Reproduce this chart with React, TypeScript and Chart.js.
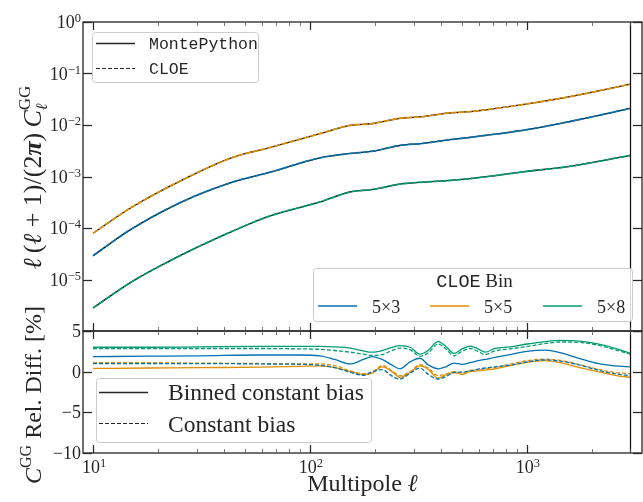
import React, { useEffect, useRef } from 'react';
import { Chart, registerables } from 'chart.js';
Chart.register(...registerables);

const SERIF = '"Liberation Serif", "DejaVu Serif", serif';
const MONO = '"Liberation Mono", "DejaVu Sans Mono", monospace';
const INK = '#262626';

// ---------- data ----------
const ELL_TOP = [10, 15, 26, 44, 65, 111, 153, 195, 259, 332, 428, 547, 1000, 1580, 3000];
const CL_5x3 = [2.9e-5, 9.5e-5, 3.3e-4, 7.8e-4, 1.2e-3, 2.3e-3, 2.8e-3, 3.1e-3, 4.0e-3, 4.4e-3, 5.1e-3, 5.75e-3, 8.1e-3, 1.17e-2, 2.1e-2];
const CL_5x5 = [7.9e-5, 2.5e-4, 8.7e-4, 2.34e-3, 3.63e-3, 6.8e-3, 9.8e-3, 1.07e-2, 1.35e-2, 1.45e-2, 1.7e-2, 1.82e-2, 2.57e-2, 3.55e-2, 6.2e-2];
const CL_5x8 = [2.8e-6, 8.9e-6, 3.1e-5, 8.7e-5, 1.7e-4, 3.2e-4, 5.0e-4, 5.6e-4, 7.1e-4, 7.8e-4, 8.3e-4, 9.1e-4, 1.26e-3, 1.58e-3, 2.57e-3];

const ELL_DIFF = [10, 18, 31, 59, 90, 111, 130, 153, 176, 193, 215, 239, 260, 289, 321, 350, 389, 423, 461, 502, 546, 595, 641, 712, 835, 1000, 1210, 1419, 1754, 2170, 2544, 3000];
const DIFF_5x3_BINNED = [1.85, 1.9, 1.95, 2.05, 2.05, 1.95, 1.5, 0.95, 1.5, 1.85, 1.5, 0.8, 0.35, 1.2, 1.65, 0.85, 0.35, 0.6, 1.05, 0.9, 1.1, 1.35, 1.5, 1.75, 2.1, 2.5, 2.65, 2.35, 1.6, 0.95, 0.7, 0.6];
const DIFF_5x3_CONST = [1.0, 1.0, 1.0, 0.95, 0.9, 0.8, 0.5, -0.05, -0.45, 0.0, 0.25, -0.55, -0.9, -0.2, 0.45, -0.3, -0.9, -0.6, -0.1, -0.05, 0.1, 0.3, 0.45, 0.6, 0.8, 1.2, 1.45, 1.3, 0.8, 0.12, -0.25, -0.5];
const DIFF_5x5_BINNED = [0.4, 0.45, 0.5, 0.55, 0.65, 0.7, 0.5, 0.0, -0.35, -0.2, 0.6, 0.0, -0.7, -0.1, 0.7, 0.3, -0.8, -0.4, -0.1, -0.35, 0.0, 0.1, 0.2, 0.35, 0.75, 1.15, 1.35, 1.1, 0.5, -0.05, -0.45, -0.7];
const DIFF_5x5_CONST = [1.1, 1.1, 1.05, 1.0, 0.95, 0.95, 0.75, 0.1, -0.25, -0.1, 0.75, 0.1, -0.5, 0.0, 0.85, 0.45, -0.5, -0.3, 0.0, -0.2, 0.15, 0.25, 0.35, 0.5, 0.9, 1.35, 1.55, 1.4, 0.85, 0.25, -0.1, -0.25];
const DIFF_5x8_BINNED = [3.0, 3.0, 3.05, 3.1, 3.1, 3.1, 3.05, 2.9, 2.55, 2.4, 2.6, 3.0, 3.2, 3.0, 2.15, 2.6, 3.7, 3.1, 2.25, 2.8, 3.15, 2.8, 2.4, 2.85, 3.05, 3.4, 3.7, 3.85, 3.75, 3.35, 2.85, 2.25];
const DIFF_5x8_CONST = [2.85, 2.85, 2.85, 2.85, 2.8, 2.75, 2.6, 2.4, 2.15, 2.0, 2.1, 2.6, 2.9, 2.7, 1.9, 2.3, 3.4, 2.8, 1.95, 2.5, 2.85, 2.5, 2.1, 2.55, 2.8, 3.1, 3.45, 3.65, 3.6, 3.2, 2.7, 2.15];

const BIN_LABELS = ['5×3', '5×5', '5×8'];
const BIN_COLORS = ['#0173b2', '#de8f05', '#029e73'];
const CODE_LABELS = ['MontePython', 'CLOE'];
const BIAS_LABELS = ['Binned constant bias', 'Constant bias'];
const LEGEND_TITLE_MONO = 'CLOE';
const LEGEND_TITLE_REST = ' Bin';
const X_TITLE = 'Multipole ';
const X_MIN = 8.99;
const X_MAX = 3390;
const ELL_MAX_LINE = 3000;
const X_MAJOR = [10, 100, 1000];
const X_MAJOR_EXP = ['1', '2', '3'];
const X_MINOR = [20, 30, 40, 50, 60, 70, 80, 90, 200, 300, 400, 500, 600, 700, 800, 900, 2000, 3000];
const Y_TOP_TICKS = [1, 1e-1, 1e-2, 1e-3, 1e-4, 1e-5, 1e-6];
const Y_TOP_EXP = ['0', '−1', '−2', '−3', '−4', '−5', ''];
const Y_BOT_TICKS = [5, 0, -5, -10];
const Y_BOT_LABELS = ['5', '0', '−5', '−10'];

// ---------- text helpers ----------
type Seg = { t: string; font: string; dy?: number; adv?: boolean };
function segWidth(ctx: CanvasRenderingContext2D, segs: Seg[]) {
  let w = 0;
  for (const s of segs) {
    ctx.font = s.font;
    if (s.adv !== false) w += ctx.measureText(s.t).width;
  }
  return w;
}
function drawSegs(ctx: CanvasRenderingContext2D, segs: Seg[], x: number, y: number, align: 'left' | 'right' | 'center') {
  const w = segWidth(ctx, segs);
  let cx = align === 'right' ? x - w : align === 'center' ? x - w / 2 : x;
  ctx.textAlign = 'left';
  ctx.textBaseline = 'alphabetic';
  for (const s of segs) {
    ctx.font = s.font;
    ctx.fillText(s.t, cx, y + (s.dy || 0));
    if (s.adv !== false) cx += ctx.measureText(s.t).width;
  }
}
const F_TICK = `18px ${SERIF}`;
const F_EXP = `12.5px ${SERIF}`;
function powSegs(exp: string): Seg[] {
  return [{ t: '10', font: F_TICK }, { t: exp, font: F_EXP, dy: -6 }];
}

function line(ctx: CanvasRenderingContext2D, x1: number, y1: number, x2: number, y2: number) {
  ctx.beginPath();
  ctx.moveTo(x1, y1);
  ctx.lineTo(x2, y2);
  ctx.stroke();
}

function legendBox(ctx: CanvasRenderingContext2D, x: number, y: number, w: number, h: number) {
  ctx.save();
  ctx.beginPath();
  if ((ctx as any).roundRect) (ctx as any).roundRect(x + 0.5, y + 0.5, w, h, 3);
  else ctx.rect(x + 0.5, y + 0.5, w, h);
  ctx.fillStyle = 'rgba(255,255,255,0.85)';
  ctx.fill();
  ctx.strokeStyle = '#cccccc';
  ctx.lineWidth = 1;
  ctx.stroke();
  ctx.restore();
}

function drawFrameAndXTicks(chart: any) {
  const ctx: CanvasRenderingContext2D = chart.ctx;
  const a = chart.chartArea;
  const xs = chart.scales.x;
  ctx.save();
  ctx.strokeStyle = '#111';
  ctx.lineWidth = 1.25;
  const xl = Math.round(xs.getPixelForValue(ELL_MAX_LINE)) + 0.5;
  line(ctx, xl, a.top, xl, a.bottom);
  ctx.strokeStyle = INK;
  ctx.lineWidth = 1.3;
  ctx.strokeRect(a.left, a.top, a.right - a.left, a.bottom - a.top);
  for (const v of X_MAJOR) {
    const px = Math.round(xs.getPixelForValue(v)) + 0.5;
    ctx.lineWidth = 1.25;
    line(ctx, px, a.top, px, a.top + 8);
    line(ctx, px, a.bottom, px, a.bottom - 8);
  }
  ctx.strokeStyle = '#555';
  for (const v of X_MINOR) {
    const px = Math.round(xs.getPixelForValue(v)) + 0.5;
    ctx.lineWidth = 0.8;
    line(ctx, px, a.top, px, a.top + 4);
    line(ctx, px, a.bottom, px, a.bottom - 4);
  }
  ctx.restore();
}

function drawYTicks(chart: any, ticks: number[]) {
  const ctx: CanvasRenderingContext2D = chart.ctx;
  const a = chart.chartArea;
  const ys = chart.scales.y;
  ctx.save();
  ctx.strokeStyle = INK;
  ctx.lineWidth = 1.25;
  for (const v of ticks) {
    const py = Math.round(ys.getPixelForValue(v)) + 0.5;
    line(ctx, a.left, py, a.left + 9, py);
    line(ctx, a.right, py, a.right - 9, py);
  }
  ctx.restore();
}

const topPlugin = {
  id: 'topDecor',
  afterDraw(chart: any) {
    const ctx: CanvasRenderingContext2D = chart.ctx;
    const a = chart.chartArea;
    const ys = chart.scales.y;
    drawFrameAndXTicks(chart);
    drawYTicks(chart, Y_TOP_TICKS);
    ctx.save();
    ctx.fillStyle = INK;
    Y_TOP_TICKS.forEach((v, i) => {
      if (!Y_TOP_EXP[i]) return;
      const py = ys.getPixelForValue(v);
      drawSegs(ctx, powSegs(Y_TOP_EXP[i]), a.left - 2, py + 6, 'right');
    });
    // y title
    const F = 26;
    const segs: Seg[] = [
      { t: 'ℓ', font: `italic ${F}px ${SERIF}` },
      { t: '\u2009(', font: `${F}px ${SERIF}` },
      { t: 'ℓ', font: `italic ${F}px ${SERIF}` },
      { t: ' + 1)/(2', font: `${F}px ${SERIF}` },
      { t: 'π', font: `italic bold ${F}px ${SERIF}` },
      { t: ')\u2009', font: `${F}px ${SERIF}` },
      { t: 'C', font: `italic ${F}px ${SERIF}` },
      { t: 'ℓ', font: `italic 16px ${SERIF}`, dy: 6, adv: false },
      { t: 'GG', font: `17px ${SERIF}`, dy: -11 },
    ];
    ctx.save();
    ctx.translate(41, (a.top + a.bottom) / 2 + 1);
    ctx.rotate(-Math.PI / 2);
    drawSegs(ctx, segs, 0, 0, 'center');
    ctx.restore();

    // legend: codes
    legendBox(ctx, 92, 32, 166, 50);
    ctx.strokeStyle = INK;
    ctx.lineWidth = 1.5;
    line(ctx, 96, 43.5, 135, 43.5);
    ctx.setLineDash([4, 2]);
    ctx.lineWidth = 1.2;
    line(ctx, 96, 68.5, 135, 68.5);
    ctx.setLineDash([]);
    ctx.font = `16.5px ${MONO}`;
    ctx.textAlign = 'left';
    ctx.textBaseline = 'alphabetic';
    ctx.fillText(CODE_LABELS[0], 149, 48.5);
    ctx.fillText(CODE_LABELS[1], 149, 74);

    // legend: bins
    const lx = 313, ly = 268, lw = a.right - 10 - lx, lh = a.bottom - 10 - ly;
    legendBox(ctx, lx, ly, lw, lh);
    drawSegs(ctx, [
      { t: LEGEND_TITLE_MONO, font: `18.5px ${MONO}` },
      { t: LEGEND_TITLE_REST, font: `19px ${SERIF}` },
    ], lx + lw / 2 + 2, ly + 19, 'center');
    const entryX = [318, 430, 543];
    BIN_LABELS.forEach((lab, i) => {
      ctx.strokeStyle = BIN_COLORS[i];
      ctx.lineWidth = 1.3;
      line(ctx, entryX[i], 306, entryX[i] + 39, 306);
      ctx.font = `18px ${SERIF}`;
      ctx.fillStyle = INK;
      ctx.textAlign = 'left';
      ctx.fillText(lab, entryX[i] + 54, 312.5);
    });
    ctx.restore();
  },
};

const botPlugin = {
  id: 'botDecor',
  afterDraw(chart: any) {
    const ctx: CanvasRenderingContext2D = chart.ctx;
    const a = chart.chartArea;
    const xs = chart.scales.x;
    const ys = chart.scales.y;
    drawFrameAndXTicks(chart);
    drawYTicks(chart, Y_BOT_TICKS);
    ctx.save();
    ctx.fillStyle = INK;
    Y_BOT_TICKS.forEach((v, i) => {
      const py = ys.getPixelForValue(v);
      ctx.font = F_TICK;
      ctx.textAlign = 'right';
      ctx.textBaseline = 'alphabetic';
      ctx.fillText(Y_BOT_LABELS[i], a.left - 2, py + 6);
    });
    X_MAJOR.forEach((v, i) => {
      const px = xs.getPixelForValue(v);
      drawSegs(ctx, powSegs(X_MAJOR_EXP[i]), px + 1, a.bottom + 20, 'center');
    });
    drawSegs(ctx, [
      { t: X_TITLE, font: `24px ${SERIF}` },
      { t: 'ℓ', font: `italic 24px ${SERIF}` },
    ], (a.left + a.right) / 2, 491, 'center');
    ctx.save();
    ctx.translate(41, (a.top + a.bottom) / 2 + 3);
    ctx.rotate(-Math.PI / 2);
    drawSegs(ctx, [
      { t: 'C', font: `italic 24px ${SERIF}` },
      { t: 'GG', font: `16px ${SERIF}`, dy: -10 },
      { t: ' Rel. Diff. [%]', font: `24px ${SERIF}` },
    ], 0, 0, 'center');
    ctx.restore();

    legendBox(ctx, 96, 378, 275, 64);
    ctx.strokeStyle = INK;
    ctx.lineWidth = 1.5;
    line(ctx, 99, 392.5, 148, 392.5);
    ctx.setLineDash([4, 2]);
    ctx.lineWidth = 1.2;
    line(ctx, 99, 423.5, 148, 423.5);
    ctx.setLineDash([]);
    ctx.font = `23.5px ${SERIF}`;
    ctx.textAlign = 'left';
    ctx.fillStyle = INK;
    ctx.fillText(BIAS_LABELS[0], 168, 400);
    ctx.fillText(BIAS_LABELS[1], 168, 431.5);
    ctx.restore();
  },
};

function pts(xs: number[], ys: number[]) {
  return xs.map((x, i) => ({ x, y: ys[i] }));
}

export default function App() {
  const topRef = useRef<HTMLCanvasElement>(null);
  const botRef = useRef<HTMLCanvasElement>(null);

  useEffect(() => {
    const topSeries = [CL_5x3, CL_5x5, CL_5x8];
    const topDatasets: any[] = [];
    topSeries.forEach((s, i) => {
      topDatasets.push({
        label: CODE_LABELS[0] + ' ' + BIN_LABELS[i],
        data: pts(ELL_TOP, s),
        borderColor: '#111111',
        borderWidth: 1.3,
        order: 2,
      });
      topDatasets.push({
        label: CODE_LABELS[1] + ' ' + BIN_LABELS[i],
        data: pts(ELL_TOP, s),
        borderColor: BIN_COLORS[i],
        borderWidth: 1.7,
        borderDash: [6, 1.5],
        order: 1,
      });
    });
    const common = {
      type: 'line' as const,
      options: {
        animation: false as const,
        responsive: false,
        devicePixelRatio: 1,
        elements: {
          point: { radius: 0 },
          line: { cubicInterpolationMode: 'monotone' as const, fill: false },
        },
        plugins: { legend: { display: false }, tooltip: { enabled: false } },
      },
    };
    const top = new Chart(topRef.current!, {
      ...common,
      data: { datasets: topDatasets },
      options: {
        ...common.options,
        layout: { padding: { left: 83, top: 22, right: 1, bottom: 502 - 331 } },
        scales: {
          x: { type: 'logarithmic', min: X_MIN, max: X_MAX, display: false },
          y: { type: 'logarithmic', min: 1e-6, max: 1, display: false },
        },
      },
      plugins: [topPlugin],
    } as any);

    const binned = [DIFF_5x3_BINNED, DIFF_5x5_BINNED, DIFF_5x8_BINNED];
    const constant = [DIFF_5x3_CONST, DIFF_5x5_CONST, DIFF_5x8_CONST];
    const botDatasets: any[] = [];
    binned.forEach((s, i) => {
      botDatasets.push({
        label: BIAS_LABELS[0] + ' ' + BIN_LABELS[i],
        data: pts(ELL_DIFF, s),
        borderColor: BIN_COLORS[i],
        borderWidth: 1.3,
      });
      botDatasets.push({
        label: BIAS_LABELS[1] + ' ' + BIN_LABELS[i],
        data: pts(ELL_DIFF, constant[i]),
        borderColor: BIN_COLORS[i],
        borderWidth: 1.3,
        borderDash: [4, 2],
      });
    });
    const bot = new Chart(botRef.current!, {
      ...common,
      data: { datasets: botDatasets },
      options: {
        ...common.options,
        layout: { padding: { left: 83, top: 331, right: 1, bottom: 502 - 453 } },
        scales: {
          x: { type: 'logarithmic', min: X_MIN, max: X_MAX, display: false },
          y: { type: 'linear', min: -10, max: 5, display: false },
        },
      },
      plugins: [botPlugin],
    } as any);

    return () => {
      top.destroy();
      bot.destroy();
    };
  }, []);

  const cs: React.CSSProperties = { position: 'absolute', left: 0, top: 0, width: 643, height: 502 };
  return (
    <div style={{ position: 'absolute', left: 0, top: 0, width: 643, height: 502, background: '#fff' }}>
      <canvas ref={topRef} width={643} height={502} style={cs} />
      <canvas ref={botRef} width={643} height={502} style={cs} />
    </div>
  );
}
